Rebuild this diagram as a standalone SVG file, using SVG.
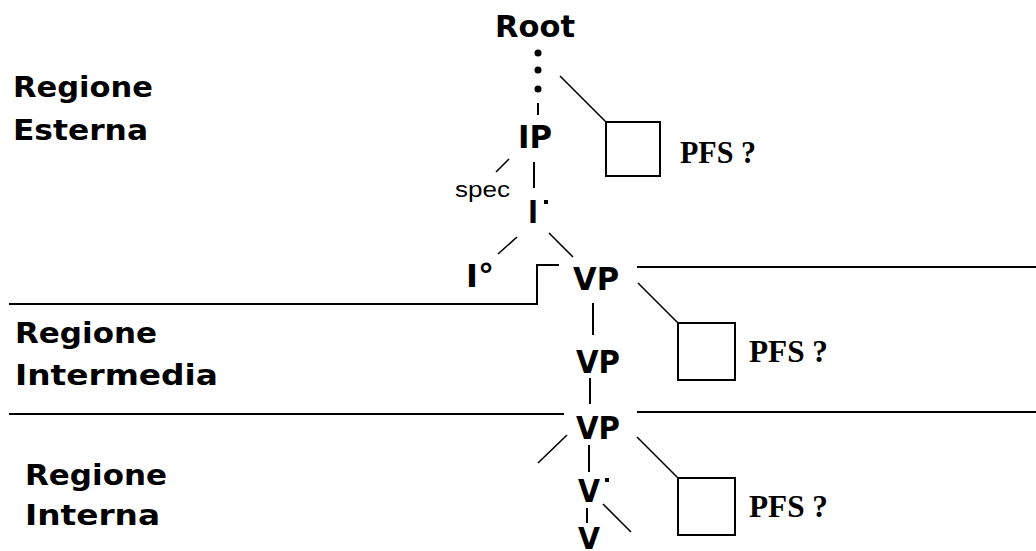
<svg xmlns="http://www.w3.org/2000/svg" width="1036" height="551" viewBox="0 0 1036 551">
<style>
.bg{fill:#fff}
.lbl{font-family:"DejaVu Sans","Liberation Sans",sans-serif;font-weight:bold;fill:#000}
.pfs{font-family:"Liberation Serif","Times New Roman",serif;font-weight:bold;font-size:32px;fill:#000}
.spec{font-family:"Liberation Sans",Arial,sans-serif;font-size:22px;fill:#000}
.ln{stroke:#000;stroke-width:2;fill:none}
.dg{stroke:#000;stroke-width:1.6;fill:none}
.box{stroke:#000;stroke-width:2;fill:#fff}
</style>
<rect class="bg" x="0" y="0" width="1036" height="551"/>
<g id="regions">
<text class="lbl" x="13" y="97" font-size="29" textLength="140" lengthAdjust="spacingAndGlyphs">Regione</text>
<text class="lbl" x="13" y="140" font-size="29" textLength="135" lengthAdjust="spacingAndGlyphs">Esterna</text>
<text class="lbl" x="15" y="343" font-size="29" textLength="142" lengthAdjust="spacingAndGlyphs">Regione</text>
<text class="lbl" x="15" y="385" font-size="29" textLength="203" lengthAdjust="spacingAndGlyphs">Intermedia</text>
<text class="lbl" x="25" y="485" font-size="29" textLength="142" lengthAdjust="spacingAndGlyphs">Regione</text>
<text class="lbl" x="25" y="525" font-size="29" textLength="135" lengthAdjust="spacingAndGlyphs">Interna</text>
</g>
<g id="connectors">
<line class="ln" x1="538" y1="103" x2="538" y2="115"/>
<line class="dg" x1="560" y1="76" x2="606" y2="122"/>
<line class="dg" x1="509" y1="159" x2="496" y2="172"/>
<line class="ln" x1="534" y1="162" x2="534" y2="188"/>
<line class="dg" x1="517" y1="237" x2="498" y2="254"/>
<line class="dg" x1="549" y1="233" x2="573" y2="257"/>
<polyline class="ln" points="9,304 537,304 537,265 559,265"/>
<line class="ln" x1="637" y1="267" x2="1036" y2="267"/>
<line class="dg" x1="638" y1="283" x2="678" y2="323"/>
<line class="ln" x1="593" y1="303" x2="593" y2="335"/>
<line class="ln" x1="590" y1="378" x2="590" y2="404"/>
<line class="ln" x1="9" y1="414" x2="564" y2="414"/>
<line class="ln" x1="637" y1="412" x2="1036" y2="412"/>
<line class="dg" x1="567" y1="435" x2="538" y2="463"/>
<line class="ln" x1="589" y1="445" x2="589" y2="472"/>
<line class="dg" x1="637" y1="437" x2="678" y2="478"/>
<line class="ln" x1="587" y1="508" x2="587" y2="523"/>
<line class="dg" x1="603" y1="504" x2="631" y2="532"/>
</g>
<g id="root">
<text class="lbl" x="495" y="37" font-size="30" textLength="80" lengthAdjust="spacingAndGlyphs">Root</text>
<circle cx="538" cy="53" r="3.5"/>
<circle cx="538" cy="70" r="3.5"/>
<circle cx="538" cy="89" r="3.5"/>
</g>
<g id="ip"><text class="lbl" x="518" y="148" font-size="32" textLength="34" lengthAdjust="spacingAndGlyphs">IP</text></g>
<g id="spec"><text class="spec" x="455" y="197" textLength="55" lengthAdjust="spacingAndGlyphs">spec</text></g>
<g id="ibar"><text class="lbl" x="528" y="223" font-size="32" textLength="10" lengthAdjust="spacingAndGlyphs">I</text><rect x="544" y="200" width="4" height="4"/></g>
<g id="i0"><text class="lbl" x="466" y="287" font-size="32" textLength="28" lengthAdjust="spacingAndGlyphs">I°</text></g>
<g id="vp1"><text class="lbl" x="573" y="290" font-size="32" textLength="46" lengthAdjust="spacingAndGlyphs">VP</text></g>
<g id="vp2"><text class="lbl" x="576" y="373" font-size="32" textLength="44" lengthAdjust="spacingAndGlyphs">VP</text></g>
<g id="vp3"><text class="lbl" x="576" y="439" font-size="32" textLength="44" lengthAdjust="spacingAndGlyphs">VP</text></g>
<g id="vbar"><text class="lbl" x="578" y="502" font-size="32" textLength="22" lengthAdjust="spacingAndGlyphs">V</text><rect x="605" y="478" width="4" height="4"/></g>
<g id="v"><text class="lbl" x="578" y="549" font-size="30" textLength="22" lengthAdjust="spacingAndGlyphs">V</text></g>
<g id="pfs1"><rect class="box" x="606" y="122" width="54" height="54"/><text class="pfs" x="680" y="163" textLength="76" lengthAdjust="spacingAndGlyphs">PFS ?</text></g>
<g id="pfs2"><rect class="box" x="678" y="323" width="57" height="57"/><text class="pfs" x="749" y="362" textLength="79" lengthAdjust="spacingAndGlyphs">PFS ?</text></g>
<g id="pfs3"><rect class="box" x="678" y="478" width="57" height="57"/><text class="pfs" x="749" y="517" textLength="79" lengthAdjust="spacingAndGlyphs">PFS ?</text></g>
</svg>
